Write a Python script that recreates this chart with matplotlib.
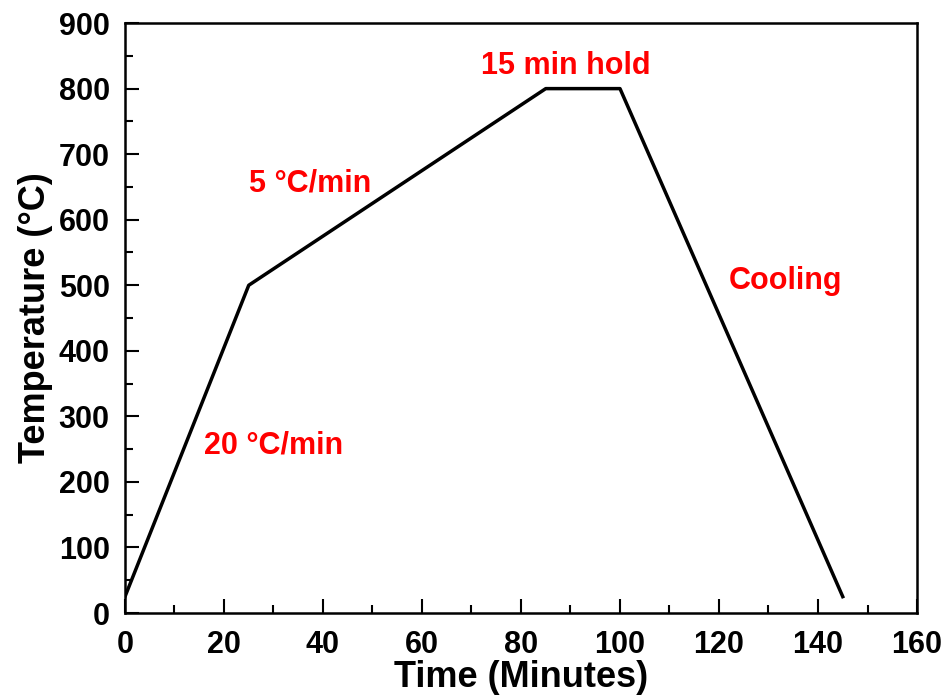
import matplotlib
matplotlib.use("Agg")
import matplotlib.pyplot as plt
from matplotlib.ticker import MultipleLocator

# heating profile
time_min = [0, 25, 85, 100, 145]
temp_c = [25, 500, 800, 800, 25]

labels = ["20 °C/min", "5 °C/min", "15 min hold", "Cooling"]
label_x = [30, 37.5, 89, 133.5]
label_y = [255, 655, 834, 506]

plt.rcParams['font.family'] = ['Liberation Sans', 'DejaVu Sans']
plt.rcParams['font.weight'] = 'bold'

fig = plt.figure(figsize=(9.44, 6.99), dpi=100)
ax = fig.add_axes([0.1324, 0.123, 0.839, 0.844])

ax.plot(time_min, temp_c, color='black', lw=2.5)

for t, x, y in zip(labels, label_x, label_y):
    ax.text(x, y, t, color='red', fontsize=22, fontweight='bold', ha='center', va='center')

ax.set_xlim(0, 160)
ax.set_ylim(0, 900)
ax.xaxis.set_major_locator(MultipleLocator(20))
ax.xaxis.set_minor_locator(MultipleLocator(10))
ax.yaxis.set_major_locator(MultipleLocator(100))
ax.yaxis.set_minor_locator(MultipleLocator(50))
ax.tick_params(which='both', direction='in', top=False, right=False, width=1.5)
ax.tick_params(which='major', length=10, labelsize=22)
ax.tick_params(axis='x', which='major', pad=12)
ax.tick_params(axis='y', which='major', pad=11)
ax.tick_params(which='minor', length=6)
for s in ax.spines.values():
    s.set_linewidth(1.8)
for lab in ax.get_xticklabels() + ax.get_yticklabels():
    lab.set_fontweight('bold')

ax.set_xlabel("Time (Minutes)", fontsize=26, fontweight='bold', labelpad=0)
ax.set_ylabel("Temperature (°C)", fontsize=26, fontweight='bold', labelpad=4)

fig.savefig("out.png", dpi=100)
